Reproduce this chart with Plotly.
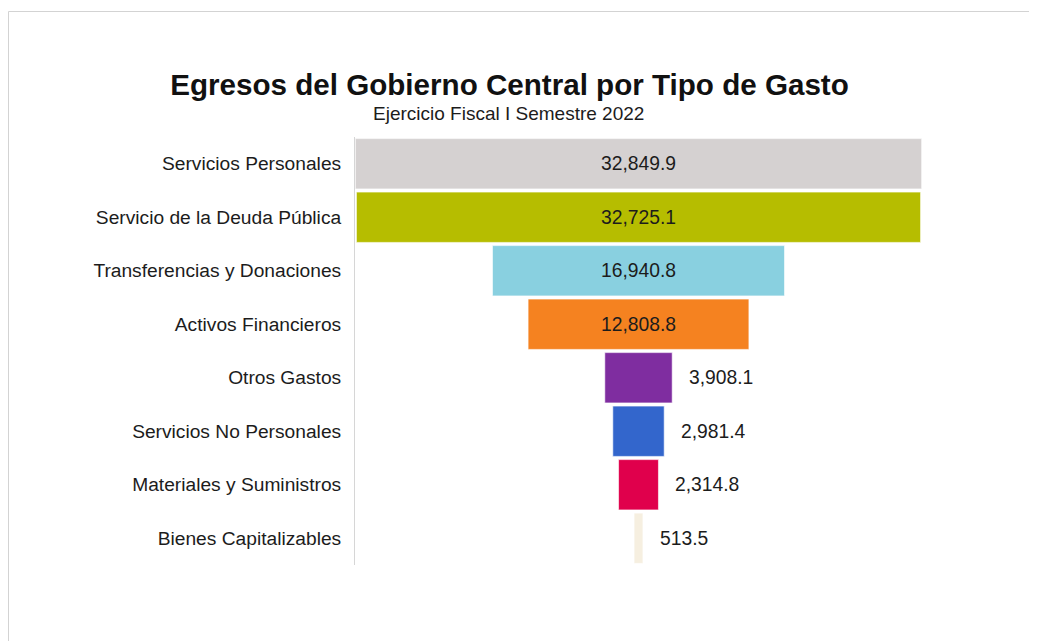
import plotly.graph_objects as go

categories = [
    "Servicios Personales",
    "Servicio de la Deuda Pública",
    "Transferencias y Donaciones",
    "Activos Financieros",
    "Otros Gastos",
    "Servicios No Personales",
    "Materiales y Suministros",
    "Bienes Capitalizables",
]
values = [32849.9, 32725.1, 16940.8, 12808.8, 3908.1, 2981.4, 2314.8, 513.5]
colors = ["#d5d1d1", "#b6bd00", "#89d0e0", "#f58220", "#7f2da0", "#3366cc", "#e0004c", "#f6efe0"]
inside = [True, True, True, True, False, False, False, False]

FONT = "Liberation Sans, Arial"
TXT = "#1c1c1c"
W, H = 1029, 633
L, R, T, B = 347, 115, 129, 76

fig = go.Figure(go.Funnel(
    y=categories,
    x=values,
    marker=dict(color=colors, line=dict(color="rgba(255,255,255,0.6)", width=1)),
    connector=dict(visible=False),
    text=[f"{v:,.1f}" if ins else "" for v, ins in zip(values, inside)],
    texttemplate="%{text}",
    textposition="inside",
    insidetextanchor="middle",
    textfont=dict(family=FONT, size=19.3, color=TXT),
    hoverinfo="y+x",
))

for c, v, ins in zip(categories, values, inside):
    if not ins:
        fig.add_annotation(x=v / 2, y=c, xref="x", yref="y", text=f"{v:,.1f}",
                           showarrow=False, xanchor="left", yanchor="middle", xshift=15,
                           font=dict(family=FONT, size=19.3, color=TXT))

half = max(values) / 2
fig.update_layout(
    width=W, height=H,
    margin=dict(l=L, r=R, t=T, b=B),
    paper_bgcolor="white", plot_bgcolor="white",
    showlegend=False,
    funnelgap=0.06,
    font=dict(family=FONT, color=TXT),
    xaxis=dict(range=[-half - 20, half + 20], visible=False, fixedrange=True),
    yaxis=dict(showline=True, linecolor="#d6d6d6", linewidth=1,
               tickfont=dict(size=19.2, color=TXT),
               ticklabelstandoff=9, showgrid=False, ticks=""),
    title=dict(text="<b>Egresos del Gobierno Central por Tipo de Gasto</b>",
               x=501.5 / W, xanchor="center", y=1 - 77 / H, yanchor="middle",
               font=dict(size=29.6, color="#111111", family=FONT)),
)

pw, ph = W - L - R, H - T - B
def px(x): return (x - L) / pw
def py(y): return (H - B - y) / ph

fig.add_annotation(text="Ejercicio Fiscal I Semestre 2022", xref="paper", yref="paper",
                   x=px(500.5), y=py(106), xanchor="center", yanchor="middle",
                   showarrow=False, font=dict(size=19, color=TXT, family=FONT))

border = "#d3d3d3"
fig.add_shape(type="line", xref="paper", yref="paper", x0=px(0.5), x1=px(W + 5),
              y0=py(3.5), y1=py(3.5), line=dict(color=border, width=1))
fig.add_shape(type="line", xref="paper", yref="paper", x0=px(0.5), x1=px(0.5),
              y0=py(3.5), y1=py(H + 5), line=dict(color=border, width=1))

fig.write_html("out.html")
